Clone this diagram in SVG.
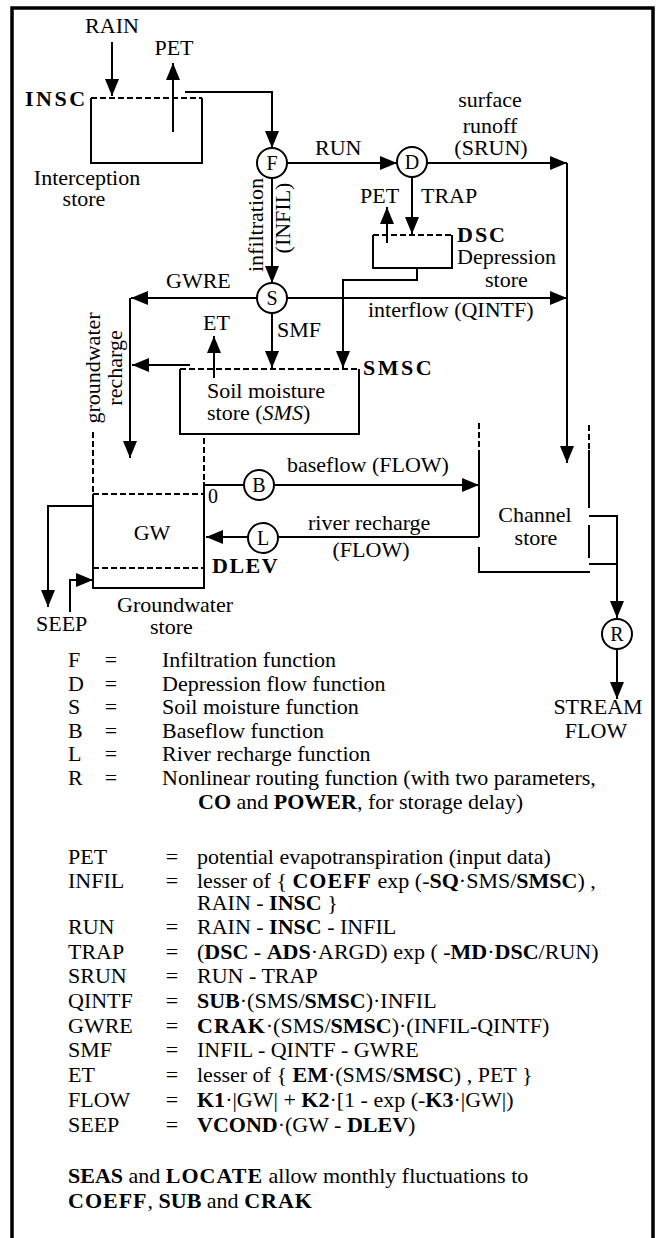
<svg xmlns="http://www.w3.org/2000/svg" width="659" height="1238" viewBox="0 0 659 1238">
<style>
.t{font-family:"Liberation Serif","Times New Roman",serif;font-size:22px;fill:#000}
.b{font-weight:bold}
.i{font-style:italic}
.m{text-anchor:middle}
.cl{font-family:"Liberation Serif","Times New Roman",serif;font-size:20px;text-anchor:middle;fill:#000}
.ln{fill:none;stroke:#000;stroke-width:2}
.ds{fill:none;stroke:#000;stroke-width:2;stroke-dasharray:6 3}
.ar{fill:none;stroke:#000;stroke-width:2;marker-end:url(#ah)}
.nd{fill:#fff;stroke:#000;stroke-width:2}
</style>
<defs>
<marker id="ah" markerUnits="userSpaceOnUse" markerWidth="17" markerHeight="14" refX="17" refY="7" orient="auto" viewBox="0 0 17 14">
<path d="M0,0 L17,7 L0,14 z" fill="#000"/>
</marker>
</defs>
<rect x="12" y="8" width="641" height="1240" fill="#fff" stroke="#000" stroke-width="3.5"/>

<g id="connectors">
<path class="ar" d="M112,42 V96"/>
<path class="ar" d="M173,132 V63"/>
<path class="ar" d="M185,92 H272 V148"/>
<path class="ar" d="M287,163 H397"/>
<path class="ar" d="M427,163 H567"/>
<path class="ar" d="M567,163 V463"/>
<path class="ar" d="M412,177 V234"/>
<path class="ar" d="M387,243 V207"/>
<path class="ar" d="M417,268 V280 H343 V368"/>
<path class="ar" d="M272,178 V283"/>
<path class="ar" d="M257,298 H131"/>
<path class="ar" d="M130,298 V458"/>
<path class="ar" d="M287,298 H567"/>
<path class="ar" d="M272,313 V368"/>
<path class="ar" d="M214,378 V336"/>
<path class="ar" d="M190,365 H132"/>
<path class="ln" d="M204,485 H244"/>
<path class="ar" d="M274,485 H479"/>
<path class="ln" d="M479,537 H278"/>
<path class="ar" d="M248,537 H206"/>
<path class="ar" d="M93,506 H48 V607"/>
<path class="ar" d="M70,612 V580 H93"/>
<path class="ar" d="M589,516 H617 V618"/>
<path class="ln" d="M589,564 H617"/>
<path class="ar" d="M617,649 V699"/>
</g>

<g id="interception-store">
<path class="ln" d="M91,98 V163 H202 V98"/>
<path class="ds" d="M91,98 H202"/>
<text class="t b" x="25" y="106" letter-spacing="2.5">INSC</text>
<text class="t m" x="87" y="185">Interception</text>
<text class="t m" x="84" y="206">store</text>
</g>

<g id="depression-store">
<path class="ln" d="M373,235 V268 H452 V235"/>
<path class="ds" d="M373,235 H452"/>
<text class="t b" x="457" y="242" letter-spacing="2">DSC</text>
<text class="t" x="457" y="264">Depression</text>
<text class="t" x="485" y="287">store</text>
</g>

<g id="soil-moisture-store">
<path class="ln" d="M180,369 V434 H359 V369"/>
<path class="ds" d="M180,369 H359"/>
<text class="t b" x="363" y="375" letter-spacing="2.5">SMSC</text>
<text class="t" x="207" y="398">Soil moisture</text>
<text class="t" x="207" y="420">store  (<tspan class="i">SMS</tspan>)</text>
</g>

<g id="groundwater-store">
<path class="ds" d="M93,432 V494"/>
<path class="ln" d="M93,494 V588 H204 V482"/>
<path class="ds" d="M204,438 V482"/>
<path class="ds" d="M93,494 H204"/>
<path class="ds" d="M93,568 H204"/>
<text class="t" x="208" y="503" style="font-size:20px">0</text>
<text class="t m" x="152" y="540">GW</text>
<text class="t b" x="212" y="573" letter-spacing="1.5">DLEV</text>
<text class="t" x="117" y="612">Groundwater</text>
<text class="t" x="150" y="634">store</text>
</g>

<g id="channel-store">
<path class="ds" d="M479,423 V450"/>
<path class="ln" d="M479,450 V537"/>
<path class="ln" d="M479,547 V572 H590"/>
<path class="ds" d="M589,425 V450"/>
<path class="ln" d="M589,450 V508"/>
<path class="ln" d="M589,525 V558"/>
<text class="t m" x="535" y="522">Channel</text>
<text class="t m" x="536" y="545">store</text>
</g>

<g id="node-F"><circle class="nd" cx="272" cy="163" r="15"/><text class="cl" x="272" y="170">F</text></g>
<g id="node-D"><circle class="nd" cx="412" cy="162" r="15"/><text class="cl" x="412" y="169">D</text></g>
<g id="node-S"><circle class="nd" cx="272" cy="298" r="15"/><text class="cl" x="272" y="305">S</text></g>
<g id="node-B"><circle class="nd" cx="259" cy="485" r="15"/><text class="cl" x="259" y="492">B</text></g>
<g id="node-L"><circle class="nd" cx="263" cy="538" r="15"/><text class="cl" x="263" y="545">L</text></g>
<g id="node-R"><circle class="nd" cx="617" cy="634" r="15"/><text class="cl" x="617" y="641">R</text></g>

<g id="labels">
<text class="t m" x="112" y="33">RAIN</text>
<text class="t m" x="174" y="55">PET</text>
<text class="t" x="315" y="155">RUN</text>
<text class="t m" x="490" y="107">surface</text>
<text class="t m" x="490" y="133">runoff</text>
<text class="t m" x="491" y="155">(SRUN)</text>
<text class="t" x="360" y="203">PET</text>
<text class="t" x="421" y="203">TRAP</text>
<text class="t m" transform="translate(263,225) rotate(-90)">infiltration</text>
<text class="t m" transform="translate(290,218) rotate(-90)">(INFIL)</text>
<text class="t" x="166" y="288">GWRE</text>
<text class="t" x="368" y="317">interflow (QINTF)</text>
<text class="t" x="203" y="330">ET</text>
<text class="t" x="277" y="337">SMF</text>
<text class="t m" transform="translate(100,368) rotate(-90)">groundwater</text>
<text class="t m" transform="translate(122,368) rotate(-90)">recharge</text>
<text class="t" x="287" y="472">baseflow (FLOW)</text>
<text class="t" x="308" y="530">river recharge</text>
<text class="t m" x="371" y="557">(FLOW)</text>
<text class="t" x="36" y="631">SEEP</text>
<text class="t m" x="598" y="714">STREAM</text>
<text class="t m" x="596" y="738">FLOW</text>
</g>

<g id="legend-functions">
<text class="t" x="68" y="667">F</text><text class="t m" x="111" y="667">=</text><text class="t" x="162" y="667">Infiltration function</text>
<text class="t" x="68" y="691">D</text><text class="t m" x="111" y="691">=</text><text class="t" x="162" y="691">Depression flow function</text>
<text class="t" x="68" y="714">S</text><text class="t m" x="111" y="714">=</text><text class="t" x="162" y="714">Soil moisture function</text>
<text class="t" x="68" y="738">B</text><text class="t m" x="111" y="738">=</text><text class="t" x="162" y="738">Baseflow function</text>
<text class="t" x="68" y="761">L</text><text class="t m" x="111" y="761">=</text><text class="t" x="162" y="761">River recharge function</text>
<text class="t" x="68" y="785">R</text><text class="t m" x="111" y="785">=</text><text class="t" x="162" y="785">Nonlinear routing function (with two parameters,</text>
<text class="t" x="198" y="809"><tspan class="b">CO</tspan> and <tspan class="b">POWER</tspan>, for storage delay)</text>
</g>

<g id="legend-equations">
<text class="t" x="68" y="864">PET</text><text class="t m" x="172" y="864">=</text><text class="t" x="197" y="864">potential evapotranspiration (input data)</text>
<text class="t" x="68" y="888">INFIL</text><text class="t m" x="172" y="888">=</text><text class="t" x="197" y="888">lesser of { <tspan class="b" letter-spacing="1">COEFF</tspan> exp (-<tspan class="b">SQ</tspan>·SMS/<tspan class="b">SMSC</tspan>) ,</text>
<text class="t" x="197" y="910">RAIN - <tspan class="b">INSC</tspan> }</text>
<text class="t" x="68" y="934">RUN</text><text class="t m" x="172" y="934">=</text><text class="t" x="197" y="934">RAIN - <tspan class="b">INSC</tspan> - INFIL</text>
<text class="t" x="68" y="959">TRAP</text><text class="t m" x="172" y="959">=</text><text class="t" x="197" y="959">(<tspan class="b">DSC</tspan> - <tspan class="b">ADS</tspan>·ARGD) exp ( -<tspan class="b">MD</tspan>·<tspan class="b">DSC</tspan>/RUN)</text>
<text class="t" x="68" y="983">SRUN</text><text class="t m" x="172" y="983">=</text><text class="t" x="197" y="983">RUN - TRAP</text>
<text class="t" x="68" y="1008">QINTF</text><text class="t m" x="172" y="1008">=</text><text class="t" x="197" y="1008"><tspan class="b">SUB</tspan>·(SMS/<tspan class="b">SMSC</tspan>)·INFIL</text>
<text class="t" x="68" y="1033">GWRE</text><text class="t m" x="172" y="1033">=</text><text class="t" x="197" y="1033"><tspan class="b" letter-spacing="1">CRAK</tspan>·(SMS/<tspan class="b">SMSC</tspan>)·(INFIL-QINTF)</text>
<text class="t" x="68" y="1057">SMF</text><text class="t m" x="172" y="1057">=</text><text class="t" x="197" y="1057">INFIL - QINTF - GWRE</text>
<text class="t" x="68" y="1082">ET</text><text class="t m" x="172" y="1082">=</text><text class="t" x="197" y="1082">lesser of { <tspan class="b">EM</tspan>·(SMS/<tspan class="b">SMSC</tspan>) , PET }</text>
<text class="t" x="68" y="1107">FLOW</text><text class="t m" x="172" y="1107">=</text><text class="t" x="197" y="1107"><tspan class="b">K1</tspan>·|GW| + <tspan class="b">K2</tspan>·[1 - exp (-<tspan class="b">K3</tspan>·|GW|)</text>
<text class="t" x="68" y="1132">SEEP</text><text class="t m" x="172" y="1132">=</text><text class="t" x="197" y="1132"><tspan class="b">VCOND</tspan>·(GW - <tspan class="b">DLEV</tspan>)</text>
<text class="t" x="68" y="1183"><tspan class="b">SEAS</tspan> and <tspan class="b" letter-spacing="1">LOCATE</tspan> allow monthly fluctuations to</text>
<text class="t" x="68" y="1208"><tspan class="b" letter-spacing="1">COEFF</tspan>, <tspan class="b">SUB</tspan> and <tspan class="b" letter-spacing="1">CRAK</tspan></text>
</g>
</svg>
